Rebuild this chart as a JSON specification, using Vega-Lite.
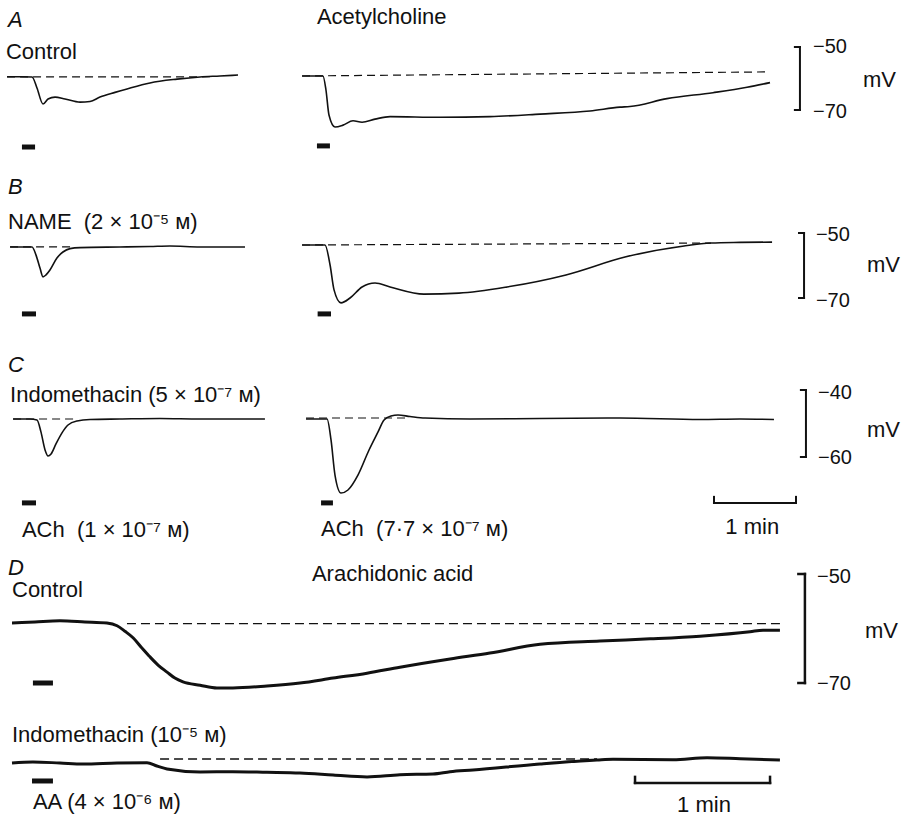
{
"$schema": "https://vega.github.io/schema/vega-lite/v6.json",
"padding": 0,
"background": "white",
"config": {"view": {"stroke": null}},
"datasets": {
"aL": [
{"kind":"trace","t":1.5,"mv":-59.43},{"kind":"trace","t":11,"mv":-59.43},{"kind":"trace","t":19.8,"mv":-59.5},{"kind":"trace","t":23.4,"mv":-63.0},{"kind":"trace","t":27.8,"mv":-68.1},{"kind":"trace","t":31.5,"mv":-66.5},{"kind":"trace","t":36.6,"mv":-65.9},{"kind":"trace","t":43.9,"mv":-66.5},{"kind":"trace","t":54.9,"mv":-67.5},{"kind":"trace","t":62.2,"mv":-67.3},{"kind":"trace","t":69.5,"mv":-65.9},{"kind":"trace","t":80.5,"mv":-64.4},{"kind":"trace","t":89.3,"mv":-63.3},{"kind":"trace","t":106.1,"mv":-61.4},{"kind":"trace","t":125.9,"mv":-60.2},{"kind":"trace","t":142.7,"mv":-59.5},{"kind":"trace","t":157.3,"mv":-59.2},{"kind":"trace","t":170.5,"mv":-58.9},
{"kind":"base","t":1.5,"mv":-59.5},{"kind":"base","t":150,"mv":-59.45},
{"kind":"stim","t":12.4,"mv":-81.75,"t2":22,"mv2":-81.75},
{"kind":"letter","t":2.2,"mv":-41.43,"text":"A"},
{"kind":"label","t":0.7,"mv":-51.6,"text":"Control"}
],
"aR": [
{"kind":"trace","t":1.5,"mv":-59.2},{"kind":"trace","t":16.8,"mv":-59.2},{"kind":"trace","t":19.0,"mv":-63.65},{"kind":"trace","t":21.2,"mv":-71.6},{"kind":"trace","t":25.6,"mv":-75.4},{"kind":"trace","t":31.5,"mv":-74.8},{"kind":"trace","t":38.8,"mv":-73.4},{"kind":"trace","t":45.4,"mv":-73.9},{"kind":"trace","t":54.9,"mv":-72.9},{"kind":"trace","t":65.9,"mv":-72.1},{"kind":"trace","t":102.4,"mv":-72.3},{"kind":"trace","t":139.0,"mv":-72.1},{"kind":"trace","t":175.6,"mv":-71.3},{"kind":"trace","t":212.2,"mv":-70.3},{"kind":"trace","t":234.1,"mv":-69.1},{"kind":"trace","t":241.4,"mv":-68.9},{"kind":"trace","t":268.5,"mv":-66.4},{"kind":"trace","t":302.2,"mv":-64.5},{"kind":"trace","t":327.1,"mv":-62.8},{"kind":"trace","t":343.9,"mv":-61.3},
{"kind":"base","t":1.5,"mv":-59.2},{"kind":"base","t":343.9,"mv":-57.9},
{"kind":"stim","t":12.4,"mv":-81.4,"t2":21.9,"mv2":-81.4},
{"kind":"label","t":12.4,"mv":-40.5,"text":"Acetylcholine"},
{"kind":"bar","t":365.8,"mv":-50,"t2":365.8,"mv2":-70},
{"kind":"bar","t":362.1,"mv":-50,"t2":365.8,"mv2":-50},
{"kind":"bar","t":362.1,"mv":-70,"t2":365.8,"mv2":-70},
{"kind":"num","t":375.4,"mv":-50,"text":"−50"},
{"kind":"num","t":375.4,"mv":-70.5,"text":"−70"},
{"kind":"label","t":411.9,"mv":-60.5,"text":"mV"}
],
"bL": [
{"kind":"trace","t":3.7,"mv":-54.3},{"kind":"trace","t":18.3,"mv":-54.3},{"kind":"trace","t":19.8,"mv":-54.3},{"kind":"trace","t":22.7,"mv":-56.8},{"kind":"trace","t":25.6,"mv":-60.8},{"kind":"trace","t":27.8,"mv":-63.5},{"kind":"trace","t":30.0,"mv":-62.9},{"kind":"trace","t":32.9,"mv":-61.4},{"kind":"trace","t":38.0,"mv":-57.7},{"kind":"trace","t":42.4,"mv":-55.85},{"kind":"trace","t":47.6,"mv":-54.8},{"kind":"trace","t":54.9,"mv":-54.5},{"kind":"trace","t":84.1,"mv":-54.3},{"kind":"trace","t":106.1,"mv":-54.15},{"kind":"trace","t":120.7,"mv":-54.0},{"kind":"trace","t":142.7,"mv":-54.3},{"kind":"trace","t":175.6,"mv":-54.3},
{"kind":"base","t":3.7,"mv":-54.3},{"kind":"base","t":47.6,"mv":-54.3},
{"kind":"stim","t":12.4,"mv":-74.9,"t2":22.7,"mv2":-74.9},
{"kind":"letter","t":2.2,"mv":-35.85,"text":"B"},
{"kind":"label","t":2.2,"mv":-46.6,"text":"NAME \u00a0(2 × 10⁻⁵ ᴍ)"}
],
"bR": [
{"kind":"trace","t":1.5,"mv":-53.7},{"kind":"trace","t":18.3,"mv":-53.7},{"kind":"trace","t":22.0,"mv":-59.85},{"kind":"trace","t":24.9,"mv":-67.5},{"kind":"trace","t":30.0,"mv":-71.5},{"kind":"trace","t":36.6,"mv":-70.0},{"kind":"trace","t":45.4,"mv":-66.6},{"kind":"trace","t":54.9,"mv":-65.4},{"kind":"trace","t":65.9,"mv":-66.6},{"kind":"trace","t":90.7,"mv":-68.8},{"kind":"trace","t":116.3,"mv":-68.5},{"kind":"trace","t":151.5,"mv":-66.6},{"kind":"trace","t":194.6,"mv":-62.9},{"kind":"trace","t":237.8,"mv":-57.4},{"kind":"trace","t":281.0,"mv":-54.0},{"kind":"trace","t":300.7,"mv":-53.1},{"kind":"trace","t":321.9,"mv":-52.9},{"kind":"trace","t":345.4,"mv":-52.8},
{"kind":"base","t":1.5,"mv":-53.7},{"kind":"base","t":300.7,"mv":-53.1},
{"kind":"stim","t":12.9,"mv":-74.9,"t2":22.7,"mv2":-74.9},
{"kind":"bar","t":368.8,"mv":-50,"t2":368.8,"mv2":-70},
{"kind":"bar","t":365.1,"mv":-50,"t2":368.8,"mv2":-50},
{"kind":"bar","t":365.1,"mv":-70,"t2":368.8,"mv2":-70},
{"kind":"num","t":377.5,"mv":-50.6,"text":"−50"},
{"kind":"num","t":377.5,"mv":-70.9,"text":"−70"},
{"kind":"label","t":414.8,"mv":-59.85,"text":"mV"}
],
"cL": [
{"kind":"trace","t":5.9,"mv":-48.66},{"kind":"trace","t":18.3,"mv":-48.66},{"kind":"trace","t":23.4,"mv":-48.95},{"kind":"trace","t":26.3,"mv":-52.5},{"kind":"trace","t":29.3,"mv":-57.9},{"kind":"trace","t":31.5,"mv":-59.7},{"kind":"trace","t":33.7,"mv":-59.1},{"kind":"trace","t":37.3,"mv":-56.1},{"kind":"trace","t":41.7,"mv":-52.8},{"kind":"trace","t":46.1,"mv":-50.45},{"kind":"trace","t":52.7,"mv":-49.25},{"kind":"trace","t":62.2,"mv":-48.8},{"kind":"trace","t":84.1,"mv":-48.66},{"kind":"trace","t":113.4,"mv":-48.5},{"kind":"trace","t":142.7,"mv":-48.66},{"kind":"trace","t":171.9,"mv":-48.66},{"kind":"trace","t":190.2,"mv":-48.66},
{"kind":"base","t":5.9,"mv":-48.66},{"kind":"base","t":52.7,"mv":-48.66},
{"kind":"stim","t":12.4,"mv":-73.7,"t2":22.7,"mv2":-73.7},
{"kind":"letter","t":2.2,"mv":-32.5,"text":"C"},
{"kind":"label","t":3.7,"mv":-41.5,"text":"Indomethacin (5 × 10⁻⁷ ᴍ)"},
{"kind":"label","t":12.4,"mv":-81.8,"text":"ACh \u00a0(1 × 10⁻⁷ ᴍ)"}
],
"cR": [
{"kind":"trace","t":4.4,"mv":-48.66},{"kind":"trace","t":19.8,"mv":-48.66},{"kind":"trace","t":22.7,"mv":-54.9},{"kind":"trace","t":25.6,"mv":-65.4},{"kind":"trace","t":30.0,"mv":-70.75},{"kind":"trace","t":35.1,"mv":-69.85},{"kind":"trace","t":42.4,"mv":-65.4},{"kind":"trace","t":50.5,"mv":-57.9},{"kind":"trace","t":57.1,"mv":-52.5},{"kind":"trace","t":61.5,"mv":-48.95},{"kind":"trace","t":66.6,"mv":-47.76},{"kind":"trace","t":71.7,"mv":-47.46},{"kind":"trace","t":80.5,"mv":-47.9},{"kind":"trace","t":91.5,"mv":-48.36},{"kind":"trace","t":124.4,"mv":-48.66},{"kind":"trace","t":175.6,"mv":-48.5},{"kind":"trace","t":234.1,"mv":-48.36},{"kind":"trace","t":292.7,"mv":-48.8},{"kind":"trace","t":321.9,"mv":-48.66},{"kind":"trace","t":346.8,"mv":-48.8},
{"kind":"base","t":4.4,"mv":-48.36},{"kind":"base","t":79.0,"mv":-48.36},
{"kind":"stim","t":15.4,"mv":-73.7,"t2":24.1,"mv2":-73.7},
{"kind":"label","t":15.4,"mv":-81.5,"text":"ACh \u00a0(7·7 × 10⁻⁷ ᴍ)"},
{"kind":"bar","t":302.9,"mv":-73.7,"t2":362.9,"mv2":-73.7},
{"kind":"bar","t":302.9,"mv":-71.9,"t2":302.9,"mv2":-73.7},
{"kind":"bar","t":362.9,"mv":-71.9,"t2":362.9,"mv2":-73.7},
{"kind":"label","t":311.2,"mv":-80.9,"text":"1 min"},
{"kind":"bar","t":370.2,"mv":-40,"t2":370.2,"mv2":-60},
{"kind":"bar","t":366.5,"mv":-40,"t2":370.2,"mv2":-40},
{"kind":"bar","t":366.5,"mv":-60,"t2":370.2,"mv2":-60},
{"kind":"num","t":379,"mv":-40.9,"text":"−40"},
{"kind":"num","t":379,"mv":-60.4,"text":"−60"},
{"kind":"label","t":414.8,"mv":-51.9,"text":"mV"}
],
"dC": [
{"kind":"trace","t":0,"mv":-58.99},{"kind":"trace","t":10.2,"mv":-58.8},{"kind":"trace","t":21.3,"mv":-58.6},{"kind":"trace","t":32.4,"mv":-58.8},{"kind":"trace","t":42.2,"mv":-59.0},{"kind":"trace","t":46.7,"mv":-59.5},{"kind":"trace","t":50.2,"mv":-60.5},{"kind":"trace","t":53.8,"mv":-61.7},{"kind":"trace","t":57.8,"mv":-63.6},{"kind":"trace","t":61.3,"mv":-65.2},{"kind":"trace","t":64.9,"mv":-66.7},{"kind":"trace","t":68.9,"mv":-68.0},{"kind":"trace","t":72.4,"mv":-69.1},{"kind":"trace","t":76.0,"mv":-69.8},{"kind":"trace","t":83.6,"mv":-70.4},{"kind":"trace","t":91.1,"mv":-70.9},{"kind":"trace","t":98.2,"mv":-70.9},{"kind":"trace","t":113.3,"mv":-70.55},{"kind":"trace","t":128.0,"mv":-70.0},{"kind":"trace","t":142.7,"mv":-69.1},{"kind":"trace","t":157.8,"mv":-68.2},{"kind":"trace","t":172.4,"mv":-67.1},{"kind":"trace","t":194.7,"mv":-65.6},{"kind":"trace","t":212.4,"mv":-64.5},{"kind":"trace","t":234.7,"mv":-62.9},{"kind":"trace","t":261.3,"mv":-62.3},{"kind":"trace","t":283.6,"mv":-61.9},{"kind":"trace","t":305.8,"mv":-61.4},{"kind":"trace","t":328.0,"mv":-60.6},{"kind":"trace","t":333.8,"mv":-60.3},{"kind":"trace","t":341.3,"mv":-60.3},
{"kind":"base","t":51.1,"mv":-59.1},{"kind":"base","t":341.3,"mv":-59.1},
{"kind":"stim","t":9.3,"mv":-70.0,"t2":18.2,"mv2":-70.0},
{"kind":"letter","t":-1.8,"mv":-48.9,"text":"D"},
{"kind":"label","t":0,"mv":-52.9,"text":"Control"},
{"kind":"label","t":133.3,"mv":-50.0,"text":"Arachidonic acid"},
{"kind":"bar","t":352.4,"mv":-50,"t2":352.4,"mv2":-70},
{"kind":"bar","t":349.5,"mv":-50,"t2":352.4,"mv2":-50},
{"kind":"bar","t":349.5,"mv":-70,"t2":352.4,"mv2":-70},
{"kind":"num","t":357.8,"mv":-50.5,"text":"−50"},
{"kind":"num","t":357.8,"mv":-70.2,"text":"−70"},
{"kind":"label","t":379.1,"mv":-60.5,"text":"mV"}
],
"dI": [
{"kind":"trace","t":0,"mv":-59.55},{"kind":"trace","t":9.3,"mv":-59.37},{"kind":"trace","t":21.3,"mv":-59.55},{"kind":"trace","t":31.6,"mv":-59.73},{"kind":"trace","t":46.7,"mv":-59.55},{"kind":"trace","t":60.0,"mv":-59.5},{"kind":"trace","t":64.4,"mv":-60.1},{"kind":"trace","t":68.9,"mv":-60.65},{"kind":"trace","t":83.6,"mv":-61.2},{"kind":"trace","t":98.2,"mv":-61.15},{"kind":"trace","t":113.3,"mv":-61.26},{"kind":"trace","t":128.0,"mv":-61.39},{"kind":"trace","t":142.7,"mv":-61.75},{"kind":"trace","t":157.8,"mv":-62.1},{"kind":"trace","t":172.4,"mv":-61.7},{"kind":"trace","t":187.1,"mv":-61.57},{"kind":"trace","t":194.7,"mv":-61.15},{"kind":"trace","t":204.9,"mv":-60.83},{"kind":"trace","t":234.7,"mv":-59.73},{"kind":"trace","t":260.0,"mv":-59.0},{"kind":"trace","t":267.1,"mv":-58.87},{"kind":"trace","t":293.8,"mv":-58.94},{"kind":"trace","t":308.9,"mv":-58.58},{"kind":"trace","t":323.6,"mv":-58.76},{"kind":"trace","t":341.3,"mv":-59.0},
{"kind":"base","t":65.8,"mv":-58.82},{"kind":"base","t":260.0,"mv":-58.82},
{"kind":"stim","t":8.9,"mv":-62.85,"t2":18.2,"mv2":-62.85},
{"kind":"label","t":0,"mv":-54.41,"text":"Indomethacin (10⁻⁵ ᴍ)"},
{"kind":"label","t":9.3,"mv":-66.7,"text":"AA (4 × 10⁻⁶ ᴍ)"},
{"kind":"bar","t":276.9,"mv":-63.2,"t2":336.9,"mv2":-63.2},
{"kind":"bar","t":276.9,"mv":-62.1,"t2":276.9,"mv2":-63.2},
{"kind":"bar","t":336.9,"mv":-62.1,"t2":336.9,"mv2":-63.2},
{"kind":"label","t":295.6,"mv":-67.26,"text":"1 min"}
]
},
"resolve": {"scale": {"x": "independent", "y": "independent"}},
"spacing": 0,
"vconcat": [
{"hconcat": [
 {"width": 280, "height": 165, "data": {"name": "aL"},
  "encoding": {"x": {"field": "t", "type": "quantitative", "scale": {"domain": [-3.658, 201.22], "nice": false, "zero": false}, "axis": null},
               "y": {"field": "mv", "type": "quantitative", "scale": {"domain": [-87.46, -35.079], "nice": false, "zero": false}, "axis": null}},
  "layer": [
   {"transform": [{"filter": "datum.kind == 'trace'"}], "mark": {"type": "line", "color": "#111", "strokeWidth": 1.6, "interpolate": "monotone"}},
   {"transform": [{"filter": "datum.kind == 'base'"}], "mark": {"type": "line", "color": "#111", "strokeWidth": 1.2, "strokeDash": [8, 5]}},
   {"transform": [{"filter": "datum.kind == 'stim'"}], "mark": {"type": "rule", "color": "#111", "strokeWidth": 5}, "encoding": {"x2": {"field": "t2"}, "y2": {"field": "mv2"}}},
   {"transform": [{"filter": "datum.kind == 'label'"}], "mark": {"type": "text", "align": "left", "baseline": "middle", "font": "Liberation Sans", "fontSize": 22, "color": "#111"}, "encoding": {"text": {"field": "text"}}},
   {"transform": [{"filter": "datum.kind == 'letter'"}], "mark": {"type": "text", "align": "left", "baseline": "middle", "font": "Liberation Sans", "fontSize": 22, "fontStyle": "italic", "color": "#111"}, "encoding": {"text": {"field": "text"}}}
  ]},
 {"width": 614, "height": 165, "data": {"name": "aR"},
  "encoding": {"x": {"field": "t", "type": "quantitative", "scale": {"domain": [-7.317, 441.94], "nice": false, "zero": false}, "axis": null},
               "y": {"field": "mv", "type": "quantitative", "scale": {"domain": [-87.46, -35.079], "nice": false, "zero": false}, "axis": null}},
  "layer": [
   {"transform": [{"filter": "datum.kind == 'trace'"}], "mark": {"type": "line", "color": "#111", "strokeWidth": 1.6, "interpolate": "monotone"}},
   {"transform": [{"filter": "datum.kind == 'base'"}], "mark": {"type": "line", "color": "#111", "strokeWidth": 1.2, "strokeDash": [8, 5]}},
   {"transform": [{"filter": "datum.kind == 'stim'"}], "mark": {"type": "rule", "color": "#111", "strokeWidth": 5}, "encoding": {"x2": {"field": "t2"}, "y2": {"field": "mv2"}}},
   {"transform": [{"filter": "datum.kind == 'bar'"}], "mark": {"type": "rule", "color": "#111", "strokeWidth": 2, "strokeCap": "square"}, "encoding": {"x2": {"field": "t2"}, "y2": {"field": "mv2"}}},
   {"transform": [{"filter": "datum.kind == 'label'"}], "mark": {"type": "text", "align": "left", "baseline": "middle", "font": "Liberation Sans", "fontSize": 22, "color": "#111"}, "encoding": {"text": {"field": "text"}}},
   {"transform": [{"filter": "datum.kind == 'num'"}], "mark": {"type": "text", "align": "left", "baseline": "middle", "font": "Liberation Sans", "fontSize": 20, "color": "#111"}, "encoding": {"text": {"field": "text"}}}
  ]}
], "spacing": 10, "resolve": {"scale": {"x": "independent", "y": "independent"}}},
{"hconcat": [
 {"width": 280, "height": 170, "data": {"name": "bL"},
  "encoding": {"x": {"field": "t", "type": "quantitative", "scale": {"domain": [-3.658, 201.22], "nice": false, "zero": false}, "axis": null},
               "y": {"field": "mv", "type": "quantitative", "scale": {"domain": [-81.385, -29.08], "nice": false, "zero": false}, "axis": null}},
  "layer": [
   {"transform": [{"filter": "datum.kind == 'trace'"}], "mark": {"type": "line", "color": "#111", "strokeWidth": 1.6, "interpolate": "monotone"}},
   {"transform": [{"filter": "datum.kind == 'base'"}], "mark": {"type": "line", "color": "#111", "strokeWidth": 1.2, "strokeDash": [8, 5]}},
   {"transform": [{"filter": "datum.kind == 'stim'"}], "mark": {"type": "rule", "color": "#111", "strokeWidth": 5}, "encoding": {"x2": {"field": "t2"}, "y2": {"field": "mv2"}}},
   {"transform": [{"filter": "datum.kind == 'label'"}], "mark": {"type": "text", "align": "left", "baseline": "middle", "font": "Liberation Sans", "fontSize": 22, "color": "#111"}, "encoding": {"text": {"field": "text"}}},
   {"transform": [{"filter": "datum.kind == 'letter'"}], "mark": {"type": "text", "align": "left", "baseline": "middle", "font": "Liberation Sans", "fontSize": 22, "fontStyle": "italic", "color": "#111"}, "encoding": {"text": {"field": "text"}}}
  ]},
 {"width": 614, "height": 170, "data": {"name": "bR"},
  "encoding": {"x": {"field": "t", "type": "quantitative", "scale": {"domain": [-7.317, 441.94], "nice": false, "zero": false}, "axis": null},
               "y": {"field": "mv", "type": "quantitative", "scale": {"domain": [-81.385, -29.08], "nice": false, "zero": false}, "axis": null}},
  "layer": [
   {"transform": [{"filter": "datum.kind == 'trace'"}], "mark": {"type": "line", "color": "#111", "strokeWidth": 1.6, "interpolate": "monotone"}},
   {"transform": [{"filter": "datum.kind == 'base'"}], "mark": {"type": "line", "color": "#111", "strokeWidth": 1.2, "strokeDash": [8, 5]}},
   {"transform": [{"filter": "datum.kind == 'stim'"}], "mark": {"type": "rule", "color": "#111", "strokeWidth": 5}, "encoding": {"x2": {"field": "t2"}, "y2": {"field": "mv2"}}},
   {"transform": [{"filter": "datum.kind == 'bar'"}], "mark": {"type": "rule", "color": "#111", "strokeWidth": 2, "strokeCap": "square"}, "encoding": {"x2": {"field": "t2"}, "y2": {"field": "mv2"}}},
   {"transform": [{"filter": "datum.kind == 'label'"}], "mark": {"type": "text", "align": "left", "baseline": "middle", "font": "Liberation Sans", "fontSize": 22, "color": "#111"}, "encoding": {"text": {"field": "text"}}},
   {"transform": [{"filter": "datum.kind == 'num'"}], "mark": {"type": "text", "align": "left", "baseline": "middle", "font": "Liberation Sans", "fontSize": 20, "color": "#111"}, "encoding": {"text": {"field": "text"}}}
  ]}
], "spacing": 10, "resolve": {"scale": {"x": "independent", "y": "independent"}}},
{"hconcat": [
 {"width": 280, "height": 215, "data": {"name": "cL"},
  "encoding": {"x": {"field": "t", "type": "quantitative", "scale": {"domain": [-3.658, 201.22], "nice": false, "zero": false}, "axis": null},
               "y": {"field": "mv", "type": "quantitative", "scale": {"domain": [-87.76, -23.58], "nice": false, "zero": false}, "axis": null}},
  "layer": [
   {"transform": [{"filter": "datum.kind == 'trace'"}], "mark": {"type": "line", "color": "#111", "strokeWidth": 1.6, "interpolate": "monotone"}},
   {"transform": [{"filter": "datum.kind == 'base'"}], "mark": {"type": "line", "color": "#111", "strokeWidth": 1.2, "strokeDash": [8, 5]}},
   {"transform": [{"filter": "datum.kind == 'stim'"}], "mark": {"type": "rule", "color": "#111", "strokeWidth": 5}, "encoding": {"x2": {"field": "t2"}, "y2": {"field": "mv2"}}},
   {"transform": [{"filter": "datum.kind == 'label'"}], "mark": {"type": "text", "align": "left", "baseline": "middle", "font": "Liberation Sans", "fontSize": 22, "color": "#111"}, "encoding": {"text": {"field": "text"}}},
   {"transform": [{"filter": "datum.kind == 'letter'"}], "mark": {"type": "text", "align": "left", "baseline": "middle", "font": "Liberation Sans", "fontSize": 22, "fontStyle": "italic", "color": "#111"}, "encoding": {"text": {"field": "text"}}}
  ]},
 {"width": 614, "height": 215, "data": {"name": "cR"},
  "encoding": {"x": {"field": "t", "type": "quantitative", "scale": {"domain": [-7.317, 441.94], "nice": false, "zero": false}, "axis": null},
               "y": {"field": "mv", "type": "quantitative", "scale": {"domain": [-87.76, -23.58], "nice": false, "zero": false}, "axis": null}},
  "layer": [
   {"transform": [{"filter": "datum.kind == 'trace'"}], "mark": {"type": "line", "color": "#111", "strokeWidth": 1.6, "interpolate": "monotone"}},
   {"transform": [{"filter": "datum.kind == 'base'"}], "mark": {"type": "line", "color": "#111", "strokeWidth": 1.2, "strokeDash": [8, 5]}},
   {"transform": [{"filter": "datum.kind == 'stim'"}], "mark": {"type": "rule", "color": "#111", "strokeWidth": 5}, "encoding": {"x2": {"field": "t2"}, "y2": {"field": "mv2"}}},
   {"transform": [{"filter": "datum.kind == 'bar'"}], "mark": {"type": "rule", "color": "#111", "strokeWidth": 2, "strokeCap": "square"}, "encoding": {"x2": {"field": "t2"}, "y2": {"field": "mv2"}}},
   {"transform": [{"filter": "datum.kind == 'label'"}], "mark": {"type": "text", "align": "left", "baseline": "middle", "font": "Liberation Sans", "fontSize": 22, "color": "#111"}, "encoding": {"text": {"field": "text"}}},
   {"transform": [{"filter": "datum.kind == 'num'"}], "mark": {"type": "text", "align": "left", "baseline": "middle", "font": "Liberation Sans", "fontSize": 20, "color": "#111"}, "encoding": {"text": {"field": "text"}}}
  ]}
], "spacing": 10, "resolve": {"scale": {"x": "independent", "y": "independent"}}},
{"width": 904, "height": 172, "data": {"name": "dC"},
 "encoding": {"x": {"field": "t", "type": "quantitative", "scale": {"domain": [-5.333, 396.44], "nice": false, "zero": false}, "axis": null},
              "y": {"field": "mv", "type": "quantitative", "scale": {"domain": [-77.156, -45.596], "nice": false, "zero": false}, "axis": null}},
 "layer": [
  {"transform": [{"filter": "datum.kind == 'trace'"}], "mark": {"type": "line", "color": "#111", "strokeWidth": 3, "interpolate": "monotone"}},
  {"transform": [{"filter": "datum.kind == 'base'"}], "mark": {"type": "line", "color": "#111", "strokeWidth": 1.3, "strokeDash": [9, 5]}},
  {"transform": [{"filter": "datum.kind == 'stim'"}], "mark": {"type": "rule", "color": "#111", "strokeWidth": 5}, "encoding": {"x2": {"field": "t2"}, "y2": {"field": "mv2"}}},
  {"transform": [{"filter": "datum.kind == 'bar'"}], "mark": {"type": "rule", "color": "#111", "strokeWidth": 2.5, "strokeCap": "square"}, "encoding": {"x2": {"field": "t2"}, "y2": {"field": "mv2"}}},
  {"transform": [{"filter": "datum.kind == 'label'"}], "mark": {"type": "text", "align": "left", "baseline": "middle", "font": "Liberation Sans", "fontSize": 22, "color": "#111"}, "encoding": {"text": {"field": "text"}}},
  {"transform": [{"filter": "datum.kind == 'num'"}], "mark": {"type": "text", "align": "left", "baseline": "middle", "font": "Liberation Sans", "fontSize": 20, "color": "#111"}, "encoding": {"text": {"field": "text"}}},
  {"transform": [{"filter": "datum.kind == 'letter'"}], "mark": {"type": "text", "align": "left", "baseline": "middle", "font": "Liberation Sans", "fontSize": 22, "fontStyle": "italic", "color": "#111"}, "encoding": {"text": {"field": "text"}}}
 ]},
{"width": 904, "height": 97, "data": {"name": "dI"},
 "encoding": {"x": {"field": "t", "type": "quantitative", "scale": {"domain": [-5.333, 396.44], "nice": false, "zero": false}, "axis": null},
              "y": {"field": "mv", "type": "quantitative", "scale": {"domain": [-69.826, -52.028], "nice": false, "zero": false}, "axis": null}},
 "layer": [
  {"transform": [{"filter": "datum.kind == 'trace'"}], "mark": {"type": "line", "color": "#111", "strokeWidth": 3, "interpolate": "monotone"}},
  {"transform": [{"filter": "datum.kind == 'base'"}], "mark": {"type": "line", "color": "#111", "strokeWidth": 1.3, "strokeDash": [9, 5]}},
  {"transform": [{"filter": "datum.kind == 'stim'"}], "mark": {"type": "rule", "color": "#111", "strokeWidth": 5}, "encoding": {"x2": {"field": "t2"}, "y2": {"field": "mv2"}}},
  {"transform": [{"filter": "datum.kind == 'bar'"}], "mark": {"type": "rule", "color": "#111", "strokeWidth": 2.5, "strokeCap": "square"}, "encoding": {"x2": {"field": "t2"}, "y2": {"field": "mv2"}}},
  {"transform": [{"filter": "datum.kind == 'label'"}], "mark": {"type": "text", "align": "left", "baseline": "middle", "font": "Liberation Sans", "fontSize": 22, "color": "#111"}, "encoding": {"text": {"field": "text"}}}
 ]}
]
}
